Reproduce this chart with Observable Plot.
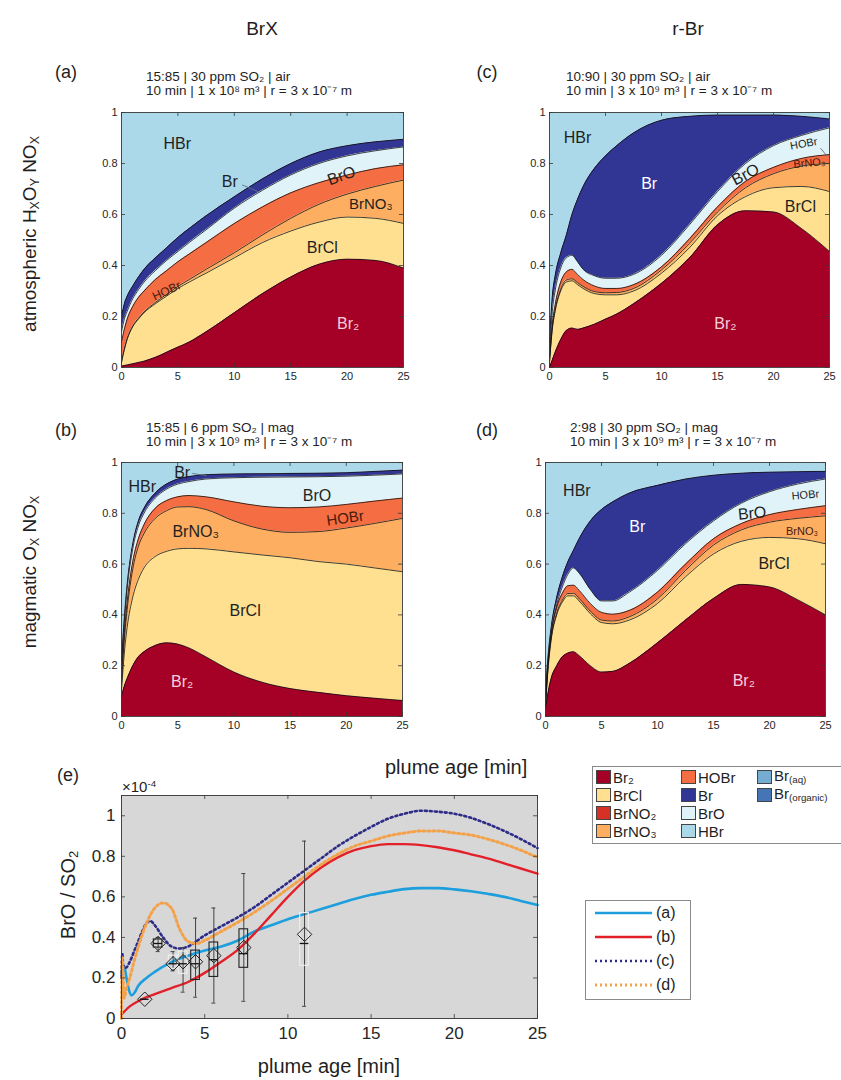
<!DOCTYPE html>
<html><head><meta charset="utf-8">
<script src="https://cdn.jsdelivr.net/npm/d3@7"></script>
<script src="https://cdn.jsdelivr.net/npm/@observablehq/plot@0.6"></script>
<style>
body{margin:0;background:#fff;font-family:"Liberation Sans",Arial,sans-serif;}
#root{position:relative;width:841px;height:1080px;overflow:hidden;background:#fff;}
.abs{position:absolute;white-space:nowrap;color:#1f1f1f;line-height:1;}
.abs sub{font-size:65%;vertical-align:-0.25em;line-height:0;}
.abs sup{font-size:65%;vertical-align:0.5em;line-height:0;}
.sw{position:absolute;width:15px;height:14px;border:1px solid #444;box-sizing:border-box;}
.box{position:absolute;border:1px solid #8a8a8a;background:#fff;box-sizing:border-box;}
</style></head>
<body><div id="root"></div>
<script>
// ---------------- DATA ----------------
const xTicks = [0, 5, 10, 15, 20, 25];
const yTicks = [0, 0.2, 0.4, 0.6, 0.8, 1];
const eYTicks = [0, 0.2, 0.4, 0.6, 0.8, 1];

const species = ["Br2", "BrCl", "BrNO3", "HOBr", "BrO", "Br", "HBr"];
const speciesColor = {Br2:"#a50026", BrCl:"#fee090", BrNO2:"#d73027", BrNO3:"#fdae61", HOBr:"#f46d43",
  Br:"#313695", BrO:"#e0f3f8", HBr:"#abd9e9", Braq:"#74add1", Brorg:"#4575b4"};

// panel (a): cumulative upper boundaries of each species (fraction)
const a_t     = [0, 0.25, 0.5, 1, 1.5, 2, 3, 4, 5, 6, 7.5, 10, 12.5, 15, 17.5, 20, 22.5, 25];
const a_Br2   = [0.005,0.008,0.01,0.015,0.02,0.025,0.04,0.06,0.08,0.1,0.14,0.215,0.29,0.355,0.405,0.425,0.42,0.39];
const a_BrCl  = [0.02,0.07,0.11,0.16,0.19,0.215,0.25,0.28,0.31,0.335,0.37,0.43,0.49,0.535,0.57,0.59,0.585,0.565];
const a_BrNO3 = [0.022,0.073,0.113,0.163,0.193,0.218,0.255,0.287,0.318,0.345,0.385,0.45,0.52,0.585,0.64,0.68,0.71,0.735];
const a_HOBr  = [0.1,0.15,0.19,0.24,0.275,0.3,0.345,0.38,0.415,0.445,0.49,0.565,0.63,0.685,0.725,0.755,0.78,0.795];
const a_BrO   = [0.14,0.19,0.22,0.27,0.305,0.335,0.38,0.42,0.455,0.49,0.54,0.625,0.695,0.755,0.8,0.83,0.85,0.865];
const a_Br    = [0.2,0.25,0.28,0.32,0.355,0.385,0.43,0.47,0.51,0.545,0.595,0.67,0.74,0.8,0.845,0.87,0.885,0.895];

// panel (b)
const b_t     = [0, 0.25, 0.5, 1, 1.5, 2, 3, 4, 5, 6, 7.5, 10, 12.5, 15, 17.5, 20, 22.5, 25];
const b_Br2   = [0.08,0.12,0.15,0.2,0.235,0.255,0.28,0.29,0.285,0.27,0.235,0.175,0.135,0.11,0.095,0.082,0.072,0.063];
const b_BrCl  = [0.1,0.25,0.35,0.47,0.54,0.585,0.63,0.65,0.66,0.662,0.66,0.648,0.636,0.625,0.61,0.6,0.585,0.57];
const b_BrNO3 = [0.13,0.3,0.42,0.58,0.67,0.72,0.78,0.81,0.825,0.826,0.815,0.77,0.738,0.725,0.728,0.742,0.76,0.78];
const b_HOBr  = [0.16,0.33,0.45,0.61,0.7,0.755,0.82,0.85,0.865,0.87,0.865,0.845,0.828,0.822,0.825,0.835,0.848,0.86];
const b_BrO   = [0.2,0.37,0.5,0.66,0.75,0.8,0.86,0.895,0.915,0.925,0.935,0.94,0.942,0.943,0.944,0.946,0.95,0.955];
const b_Br    = [0.22,0.39,0.52,0.68,0.77,0.82,0.88,0.915,0.935,0.945,0.952,0.955,0.956,0.957,0.958,0.96,0.965,0.97];

// panel (c)
const c_t     = [0, 0.25, 0.5, 1, 1.5, 2, 2.5, 3, 4, 5, 6, 7.5, 10, 12.5, 15, 17.5, 20, 22.5, 25];
const c_Br2   = [0,0.03,0.06,0.11,0.145,0.155,0.15,0.155,0.17,0.19,0.21,0.25,0.33,0.43,0.56,0.615,0.61,0.545,0.455];
const c_BrCl  = [0.02,0.15,0.22,0.3,0.335,0.34,0.325,0.31,0.29,0.285,0.285,0.3,0.37,0.47,0.595,0.67,0.705,0.71,0.69];
const c_BrNO3 = [0.025,0.155,0.226,0.307,0.343,0.348,0.333,0.318,0.298,0.293,0.294,0.31,0.383,0.487,0.61,0.705,0.76,0.79,0.8];
const c_HOBr  = [0.03,0.17,0.245,0.335,0.375,0.385,0.365,0.345,0.32,0.31,0.31,0.325,0.395,0.505,0.63,0.73,0.785,0.82,0.835];
const c_BrO   = [0.05,0.22,0.3,0.39,0.43,0.44,0.415,0.385,0.36,0.35,0.35,0.365,0.44,0.56,0.69,0.8,0.87,0.91,0.94];
const c_Br    = [0.1,0.28,0.36,0.45,0.52,0.6,0.66,0.71,0.78,0.83,0.87,0.92,0.97,0.985,0.99,0.99,0.99,0.985,0.975];

// panel (d)
const d_t     = [0, 0.25, 0.5, 1, 1.5, 2, 2.5, 3, 4, 5, 6, 7.5, 10, 12.5, 15, 17.5, 20, 22.5, 25];
const d_Br2   = [0.03,0.1,0.15,0.2,0.235,0.25,0.255,0.24,0.2,0.175,0.178,0.21,0.29,0.38,0.465,0.52,0.51,0.46,0.4];
const d_BrCl  = [0.04,0.2,0.3,0.4,0.45,0.475,0.475,0.455,0.405,0.37,0.365,0.38,0.445,0.55,0.64,0.69,0.705,0.7,0.68];
const d_BrNO3 = [0.045,0.205,0.306,0.407,0.458,0.484,0.485,0.465,0.415,0.38,0.376,0.393,0.463,0.575,0.675,0.735,0.765,0.78,0.79];
const d_HOBr  = [0.05,0.215,0.32,0.43,0.485,0.515,0.517,0.497,0.445,0.41,0.403,0.418,0.49,0.6,0.7,0.76,0.795,0.815,0.83];
const d_BrO   = [0.07,0.23,0.33,0.44,0.51,0.56,0.585,0.565,0.5,0.455,0.455,0.49,0.575,0.68,0.77,0.84,0.885,0.915,0.935];
const d_Br    = [0.1,0.25,0.35,0.47,0.55,0.61,0.655,0.7,0.77,0.815,0.845,0.88,0.91,0.935,0.95,0.958,0.962,0.964,0.965];

// panel (e): BrO/SO2 (x 1e-4)
const eA_t = [0,0.05,0.15,0.3,0.45,0.6,0.8,1,1.5,2,3,4,5,6,7,8,9,10,11,12,13,14,15,16,17,18,19,20,21,22,23,24,25];
const eA_v = [0.2,0.25,0.26,0.2,0.14,0.115,0.13,0.16,0.2,0.23,0.278,0.31,0.335,0.355,0.385,0.43,0.46,0.49,0.515,0.54,0.565,0.59,0.61,0.625,0.638,0.643,0.643,0.637,0.628,0.615,0.6,0.58,0.56];
const eB_t = [0,0.5,1,1.5,2,3,4,5,6,7,8,9,10,11,12,13,14,15,16,17,18,19,20,21,22,23,24,25];
const eB_v = [0.02,0.06,0.085,0.105,0.12,0.15,0.18,0.225,0.28,0.34,0.42,0.51,0.6,0.68,0.745,0.795,0.83,0.85,0.86,0.86,0.855,0.845,0.83,0.81,0.79,0.765,0.74,0.715];
const eC_t = [0,0.05,0.1,0.25,0.5,0.75,1,1.25,1.5,1.75,2,2.5,3,3.5,4,5,6,7,8,9,10,11,12,13,14,15,16,17,18,19,20,21,22,23,24,25];
const eC_v = [0.2,0.32,0.26,0.25,0.28,0.33,0.38,0.43,0.47,0.48,0.46,0.4,0.355,0.345,0.355,0.41,0.455,0.5,0.55,0.61,0.67,0.73,0.79,0.85,0.9,0.945,0.985,1.01,1.025,1.02,1.01,0.99,0.96,0.925,0.885,0.84];
const eD_t = [0,0.05,0.15,0.3,0.5,0.75,1,1.5,2,2.5,3,3.5,4,4.5,5,6,7,8,9,10,11,12,13,14,15,16,17,18,19,20,21,22,23,24,25];
const eD_v = [0,0.3,0.1,0.15,0.2,0.28,0.35,0.47,0.545,0.57,0.545,0.44,0.38,0.37,0.385,0.43,0.475,0.525,0.58,0.64,0.7,0.76,0.81,0.85,0.875,0.9,0.915,0.925,0.925,0.915,0.905,0.885,0.86,0.83,0.795];

// observations (box plots)
const boxT    = [1.4, 2.2, 3.1, 3.7, 4.45, 5.55, 7.35, 11.0];
const boxLo   = [0.095, 0.33, 0.235, 0.13, 0.105, 0.076, 0.085, 0.06];
const boxQ1   = [0.095, 0.35, 0.245, 0.22, 0.19, 0.205, 0.25, 0.26];
const boxMed  = [0.095, 0.37, 0.27, 0.27, 0.27, 0.29, 0.32, 0.37];
const boxQ3   = [0.095, 0.39, 0.31, 0.33, 0.335, 0.375, 0.44, 0.52];
const boxHi   = [0.095, 0.4, 0.33, 0.35, 0.495, 0.545, 0.715, 0.875];
const boxMean = [0.095, 0.37, 0.27, 0.28, 0.28, 0.31, 0.35, 0.415];

// ---------------- LAYOUT HELPERS ----------------
const root = document.getElementById("root");
const FONT = "'Liberation Sans', Arial, sans-serif";

function txt(html, x, y, o = {}) {
  const d = document.createElement("div");
  d.className = "abs";
  d.innerHTML = html;
  d.style.left = x + "px";
  d.style.top = y + "px";
  d.style.fontSize = (o.size || 14) + "px";
  if (o.color) d.style.color = o.color;
  let tf = o.anchor === "middle" ? "translate(-50%,-50%)" : o.anchor === "end" ? "translate(-100%,-50%)" : "translateY(-50%)";
  if (o.rotate) tf += ` rotate(${o.rotate}deg)`;
  d.style.transform = tf;
  root.appendChild(d);
  return d;
}

function addPlot(g, yDomain, yT, marks, o = {}) {
  const ml = 50, mr = 12, mt = 12, mb = 32;
  const W = g.r - g.l, H = g.b - g.t;
  const fs = o.fs || 11;
  const tickColor = "#3a3a3a";
  const svg = Plot.plot({
    width: W + ml + mr, height: H + mt + mb,
    marginLeft: ml, marginRight: mr, marginTop: mt, marginBottom: mb,
    x: {domain: [0, 25], label: null},
    y: {domain: yDomain, label: null},
    style: {fontFamily: FONT, fontSize: fs + "px", background: "transparent", overflow: "visible", color: "#262626"},
    marks: [
      ...marks,
      Plot.ruleX(xTicks, {x: d => d, insetTop: H - 4, stroke: tickColor, strokeWidth: 0.8}),
      Plot.ruleX(xTicks, {x: d => d, insetBottom: H - 4, stroke: tickColor, strokeWidth: 0.8}),
      Plot.ruleY(yT, {y: d => d, insetRight: W - 4, stroke: tickColor, strokeWidth: 0.8}),
      Plot.ruleY(yT, {y: d => d, insetLeft: W - 4, stroke: tickColor, strokeWidth: 0.8}),
      Plot.frame({stroke: o.frame || "#3a3a3a", strokeWidth: 0.9}),
      Plot.axisX(xTicks, {tickSize: 0, tickPadding: o.padX || 5, fontSize: fs, label: null}),
      Plot.axisY(yT, {tickSize: 0, tickPadding: o.padY || 4, fontSize: fs, tickFormat: d3.format("~g"), label: null})
    ]
  });
  svg.style.position = "absolute";
  svg.style.left = (g.l - ml) + "px";
  svg.style.top = (g.t - mt) + "px";
  root.appendChild(svg);
}

function stackMarks(t, tops, labels, leaders) {
  const marks = [];
  const bounds = [...tops, t.map(() => 1)]; // HBr fills the remainder up to 1
  const layers = bounds.map((hi, i) => t.map((x, j) => ({x, lo: i === 0 ? 0 : bounds[i - 1][j], hi: hi[j]})));
  layers.forEach((rows, i) => {
    marks.push(Plot.areaY(rows, {x: "x", y1: "lo", y2: "hi", fill: speciesColor[species[i]], curve: "monotone-x"}));
  });
  layers.slice(0, -1).forEach(rows => {
    marks.push(Plot.lineY(rows, {x: "x", y: "hi", stroke: "#111", strokeWidth: 0.8, curve: "monotone-x"}));
  });
  (leaders || []).forEach(l => marks.push(Plot.link([l], {x1: "x1", y1: "y1", x2: "x2", y2: "y2", stroke: "#5d6f80", strokeWidth: 0.9})));
  labels.forEach(l => marks.push(Plot.text([l], {x: "x", y: "y", text: "t", rotate: l.r || 0, fontSize: l.s || 16, fill: l.c || "#1f1f1f"})));
  return marks;
}

const pink = "#f6cfdd";

// ---------------- PANELS a-d ----------------
addPlot({l: 121, r: 403, t: 112, b: 367}, [0, 1], yTicks, stackMarks(a_t,
  [a_Br2, a_BrCl, a_BrNO3, a_HOBr, a_BrO, a_Br],
  [{t: "HBr", x: 4.95, y: 0.877}, {t: "Br", x: 9.6, y: 0.727}, {t: "BrO", x: 19.5, y: 0.752, r: -20},
   {t: "BrNO₃", x: 22.1, y: 0.64, s: 15}, {t: "BrCl", x: 17.8, y: 0.47}, {t: "HOBr", x: 4.0, y: 0.30, r: -25, s: 12, c: "#4a1a0a"},
   {t: "Br₂", x: 20.1, y: 0.17, c: pink}],
  [{x1: 10.7, y1: 0.716, x2: 12.2, y2: 0.688}]));

addPlot({l: 549, r: 829, t: 112, b: 367}, [0, 1], yTicks, stackMarks(c_t,
  [c_Br2, c_BrCl, c_BrNO3, c_HOBr, c_BrO, c_Br],
  [{t: "HBr", x: 2.5, y: 0.9}, {t: "Br", x: 8.9, y: 0.72, c: "#ffffff"}, {t: "BrO", x: 17.5, y: 0.757, r: -28},
   {t: "HOBr", x: 22.7, y: 0.877, r: -10, s: 11}, {t: "BrNO₃", x: 23.2, y: 0.802, s: 11, r: -5, c: "#4a1a0a"},
   {t: "BrCl", x: 22.4, y: 0.63}, {t: "Br₂", x: 15.7, y: 0.17, c: pink}],
  [{x1: 24.2, y1: 0.86, x2: 24.8, y2: 0.828}]));

addPlot({l: 121, r: 402, t: 462, b: 716}, [0, 1], yTicks, stackMarks(b_t,
  [b_Br2, b_BrCl, b_BrNO3, b_HOBr, b_BrO, b_Br],
  [{t: "HBr", x: 1.84, y: 0.905}, {t: "Br", x: 5.4, y: 0.96}, {t: "BrO", x: 17.4, y: 0.87},
   {t: "HOBr", x: 19.9, y: 0.78, r: -8, s: 15, c: "#4a1a0a"}, {t: "BrNO₃", x: 6.6, y: 0.725},
   {t: "BrCl", x: 11.0, y: 0.417}, {t: "Br₂", x: 5.4, y: 0.135, c: pink}],
  [{x1: 6.3, y1: 0.957, x2: 7.6, y2: 0.948}]));

addPlot({l: 545, r: 825, t: 462, b: 716}, [0, 1], yTicks, stackMarks(d_t,
  [d_Br2, d_BrCl, d_BrNO3, d_HOBr, d_BrO, d_Br],
  [{t: "HBr", x: 2.8, y: 0.89}, {t: "Br", x: 8.2, y: 0.745, c: "#ffffff"}, {t: "BrO", x: 18.45, y: 0.8, r: -5},
   {t: "HOBr", x: 23.2, y: 0.872, s: 11, r: -5}, {t: "BrNO₃", x: 22.9, y: 0.727, s: 11, c: "#4a1a0a"},
   {t: "BrCl", x: 20.4, y: 0.6}, {t: "Br₂", x: 17.7, y: 0.14, c: pink}],
  []));

// ---------------- PANEL e ----------------
const eSeries = [
  {t: eA_t, v: eA_v, stroke: "#1c9fdc", w: 2.6, dash: null},
  {t: eB_t, v: eB_v, stroke: "#e3202a", w: 2.4, dash: null},
  {t: eC_t, v: eC_v, stroke: "#2f2b88", w: 2.6, dash: "2,3"},
  {t: eD_t, v: eD_v, stroke: "#f4a24a", w: 3, dash: "2,3"}
];
const boxes = boxT.map((t, i) => ({t, lo: boxLo[i], q1: boxQ1[i], med: boxMed[i], q3: boxQ3[i], hi: boxHi[i], mean: boxMean[i], faint: [2, 3, 7].includes(i)}));
const eMarks = [Plot.frame({fill: "#d7d7d7"})];
eSeries.forEach(s => eMarks.push(Plot.line(s.t.map((t, i) => ({t, v: s.v[i]})),
  {x: "t", y: "v", stroke: s.stroke, strokeWidth: s.w, strokeDasharray: s.dash, curve: "monotone-x"})));
const hw = 0.26, cw = 0.12;
eMarks.push(
  Plot.ruleX(boxes, {x: "t", y1: "lo", y2: "hi", stroke: "#444", strokeWidth: 1}),
  Plot.ruleY(boxes, {y: "lo", x1: d => d.t - cw, x2: d => d.t + cw, stroke: "#444", strokeWidth: 1}),
  Plot.ruleY(boxes, {y: "hi", x1: d => d.t - cw, x2: d => d.t + cw, stroke: "#444", strokeWidth: 1}),
  Plot.rect(boxes.filter(d => !d.faint), {x1: d => d.t - hw, x2: d => d.t + hw, y1: "q1", y2: "q3", fill: "none", stroke: "#222", strokeWidth: 1.1}),
  Plot.rect(boxes.filter(d => d.faint), {x1: d => d.t - hw, x2: d => d.t + hw, y1: "q1", y2: "q3", fill: "none", stroke: "#efefef", strokeWidth: 1.1}),
  Plot.ruleY(boxes, {y: "med", x1: d => d.t - hw, x2: d => d.t + hw, stroke: "#111", strokeWidth: 1.3}),
  Plot.dot(boxes, {x: "t", y: "mean", symbol: "diamond2", r: 6.5, stroke: "#222", fill: "none", strokeWidth: 1})
);
addPlot({l: 121, r: 537, t: 795, b: 1018}, [0, 1.1], eYTicks, eMarks, {fs: 17, padX: 8, padY: 6, frame: "#333"});

// ---------------- TEXT ----------------
txt("BrX", 262, 28, {size: 19, anchor: "middle"});
txt("r-Br", 688, 28, {size: 19, anchor: "middle"});
txt("(a)", 66, 72, {size: 18, anchor: "middle"});
txt("(c)", 487, 72, {size: 18, anchor: "middle"});
txt("(b)", 66, 430, {size: 18, anchor: "middle"});
txt("(d)", 487, 430, {size: 18, anchor: "middle"});
txt("(e)", 68, 775, {size: 18, anchor: "middle"});

const sub1 = "10 min | 1 x 10⁸ m³ | r = 3 x 10⁻⁷ m";
const sub3 = "10 min | 3 x 10⁹ m³ | r = 3 x 10⁻⁷ m";
txt("15:85 | 30 ppm SO₂ | air", 146, 77, {size: 13.5});
txt(sub1, 146, 91, {size: 13.5});
txt("10:90 | 30 ppm SO₂ | air", 566, 77, {size: 13.5});
txt(sub3, 566, 91, {size: 13.5});
txt("15:85 | 6 ppm SO₂ | mag", 146, 428, {size: 13.5});
txt(sub3, 146, 442, {size: 13.5});
txt("2:98 | 30 ppm SO₂ | mag", 570, 428, {size: 13.5});
txt(sub3, 570, 442, {size: 13.5});

txt("atmospheric H<sub>X</sub>O<sub>Y</sub> NO<sub>X</sub>", 29, 234, {size: 19, anchor: "middle", rotate: -90});
txt("magmatic O<sub>X</sub> NO<sub>X</sub>", 29, 572, {size: 19, anchor: "middle", rotate: -90});
txt("plume age [min]", 385, 767, {size: 20});
txt("BrO / SO<sub>2</sub>", 68, 895, {size: 20, anchor: "middle", rotate: -90});
txt("×10<sup>-4</sup>", 122, 786, {size: 15});
txt("plume age [min]", 329, 1066, {size: 20, anchor: "middle"});

// ---------------- LEGENDS ----------------
function box(x, y, w, h) { const d = document.createElement("div"); d.className = "box"; Object.assign(d.style, {left: x + "px", top: y + "px", width: w + "px", height: h + "px"}); root.appendChild(d); }
box(592, 766, 260, 78);
const legendSpecies = [
  ["Br2", "Br₂"], ["BrCl", "BrCl"], ["BrNO2", "BrNO₂"], ["BrNO3", "BrNO₃"],
  ["HOBr", "HOBr"], ["Br", "Br"], ["BrO", "BrO"], ["HBr", "HBr"],
  ["Braq", "Br<sub>(aq)</sub>"], ["Brorg", "Br<sub>(organic)</sub>"]
];
const colX = [596, 681, 757], rowY = [777, 795, 813, 831];
legendSpecies.forEach(([k, lab], i) => {
  const c = i < 4 ? 0 : i < 8 ? 1 : 2, r = i < 4 ? i : i < 8 ? i - 4 : i - 8;
  const s = document.createElement("div"); s.className = "sw";
  Object.assign(s.style, {left: colX[c] + "px", top: (rowY[r] - 7) + "px", background: speciesColor[k]});
  root.appendChild(s);
  txt(lab, colX[c] + 17, rowY[r] - (c === 2 ? 2 : 0), {size: 15});
});

box(585, 900, 106, 100);
const legRowY = [913, 937, 961, 985];
const legNames = ["(a)", "(b)", "(c)", "(d)"];
legNames.forEach((n, i) => {
  const s = eSeries[i];
  const svg = d3.create("svg").attr("width", 60).attr("height", 10)
    .style("position", "absolute").style("left", "594px").style("top", (legRowY[i] - 5) + "px");
  svg.append("line").attr("x1", 1).attr("x2", 58).attr("y1", 5).attr("y2", 5)
    .attr("stroke", s.stroke).attr("stroke-width", s.w).attr("stroke-dasharray", s.dash);
  root.appendChild(svg.node());
  txt(n, 656, legRowY[i], {size: 16});
});
</script>
</body></html>
